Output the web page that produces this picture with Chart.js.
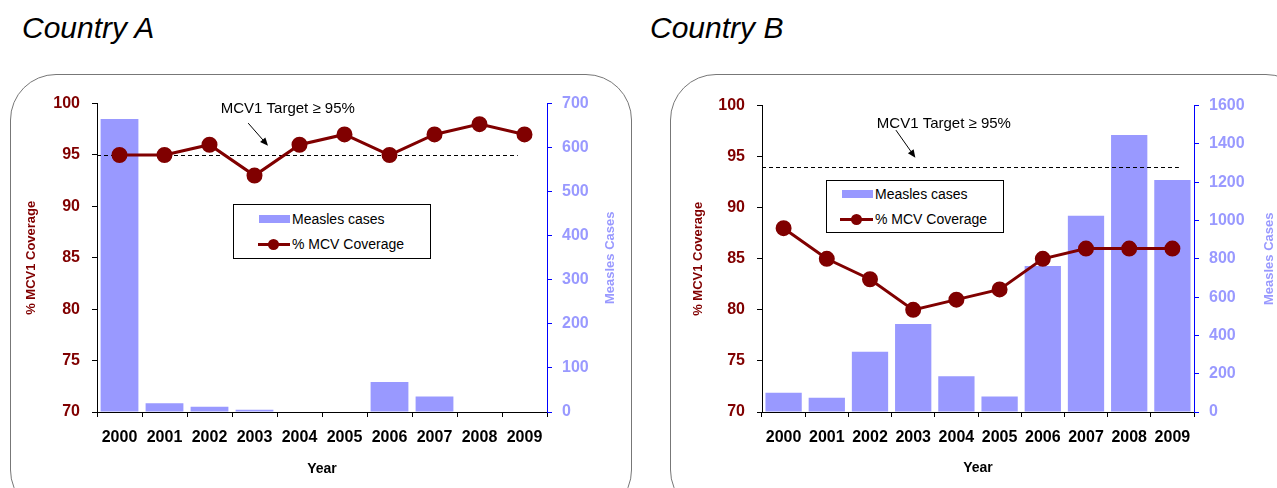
<!DOCTYPE html>
<html>
<head>
<meta charset="utf-8">
<script src="https://cdn.jsdelivr.net/npm/chart.js@4.4.0/dist/chart.umd.min.js"></script>
<style>
  body { margin: 0; background: #fff; width: 1277px; height: 488px; overflow: hidden; position: relative;
         font-family: "Liberation Sans", Arial, sans-serif; }
  .frame { position: absolute; border: 1.5px solid #777; border-radius: 46px; }
  .country { position: absolute; font-style: italic; font-size: 30px; line-height: 1; color: #000; }
  .chartbox { position: absolute; }
  .legend { position: absolute; border: 1px solid #000; background: #fff; font-size: 14px; color: #000; }
  .legend .sw { position: absolute; background: #9999ff; }
  .legend .ln { position: absolute; height: 3px; background: #800000; }
  .legend .dot { position: absolute; width: 11px; height: 11px; border-radius: 50%; background: #800000; }
  .legend .tx { position: absolute; line-height: 16px; white-space: nowrap; }
</style>
</head>
<body>
<div class="frame" style="left:10px;top:74px;width:620px;height:440px;"></div>
<div class="frame" style="left:670px;top:74px;width:640px;height:440px;"></div>
<div class="country" style="left:22px;top:13px;">Country A</div>
<div class="country" style="left:650px;top:13px;">Country B</div>

<div class="chartbox" style="left:10px;top:82px;"><canvas id="chartA" width="620" height="400"></canvas></div>
<div class="chartbox" style="left:660px;top:84px;"><canvas id="chartB" width="617" height="400"></canvas></div>

<div class="legend" style="left:233px;top:204px;width:196px;height:53px;">
  <div class="sw" style="left:25px;top:10px;width:31px;height:8px;"></div>
  <div class="tx" style="left:58px;top:6px;">Measles cases</div>
  <div class="ln" style="left:24px;top:38px;width:32px;"></div>
  <div class="dot" style="left:34px;top:34px;"></div>
  <div class="tx" style="left:58px;top:31px;">% MCV Coverage</div>
</div>
<div class="legend" style="left:826px;top:180px;width:176px;height:51px;">
  <div class="sw" style="left:15px;top:9px;width:31px;height:8px;"></div>
  <div class="tx" style="left:48px;top:5px;">Measles cases</div>
  <div class="ln" style="left:13px;top:37px;width:33px;"></div>
  <div class="dot" style="left:24px;top:33px;"></div>
  <div class="tx" style="left:48px;top:30px;">% MCV Coverage</div>
</div>

<script>
// years on the x axis
const years = ['2000', '2001', '2002', '2003', '2004', '2005', '2006', '2007', '2008', '2009'];

// Country A
const coverageA = [95, 95, 96, 93, 96, 97, 95, 97, 98, 97];
const casesA    = [665, 20, 12, 5, 0, 0, 68, 35, 0, 0];
const targetA   = 95;

// Country B
const coverageB = [88, 85, 83, 80, 81, 82, 85, 86, 86, 86];
const casesB    = [101, 75, 314, 459, 187, 81, 763, 1025, 1446, 1211];
const targetB   = 94;

// axis ranges
const coverageMin = 70, coverageMax = 100, coverageStep = 5;
const casesMaxA = 700, casesStepA = 100;
const casesMaxB = 1600, casesStepB = 200;

const MAROON = '#800000';
const LILAC  = '#9999ff';
const FONT   = '"Liberation Sans", Arial, sans-serif';

// dashed target line (under the coverage line), the note with its arrow,
// and the right axis title that reads bottom to top
const targetPlugin = {
  id: 'targetLine',
  beforeDatasetDraw(chart, args, opts) {
    if (args.index !== 0) return;
    const { ctx, chartArea, scales } = chart;
    const y = Math.round(scales.y.getPixelForValue(opts.value));
    const step = scales.x.getPixelForValue(1) - scales.x.getPixelForValue(0);
    const xEnd = scales.x.getPixelForValue(opts.endIndex) + opts.endShift * step;
    ctx.save();
    ctx.strokeStyle = '#000';
    ctx.lineWidth = 1;
    ctx.setLineDash([4, 3]);
    ctx.beginPath();
    ctx.moveTo(chartArea.left, y + 0.5);
    ctx.lineTo(xEnd, y + 0.5);
    ctx.stroke();
    ctx.restore();
  },
  afterDatasetsDraw(chart, args, opts) {
    const { ctx, scales, chartArea } = chart;
    const x = scales.x, y = scales.y;
    const step = x.getPixelForValue(1) - x.getPixelForValue(0);
    const px = v => x.getPixelForValue(0) + v * step;
    ctx.save();
    ctx.fillStyle = '#000';
    ctx.font = '15px ' + FONT;
    ctx.textAlign = 'center';
    ctx.textBaseline = 'middle';
    ctx.fillText('MCV1 Target \u2265 95%', px(opts.text[0]), y.getPixelForValue(opts.text[1]));
    const x0 = px(opts.arrow[0]), y0 = y.getPixelForValue(opts.arrow[1]);
    const x1 = px(opts.arrow[2]), y1 = y.getPixelForValue(opts.arrow[3]);
    const a = Math.atan2(y1 - y0, x1 - x0);
    ctx.strokeStyle = '#000';
    ctx.lineWidth = 1;
    ctx.beginPath();
    ctx.moveTo(x0, y0);
    ctx.lineTo(x1 - 6 * Math.cos(a), y1 - 6 * Math.sin(a));
    ctx.stroke();
    ctx.beginPath();
    ctx.moveTo(x1, y1);
    ctx.lineTo(x1 - 8 * Math.cos(a) + 3.5 * Math.sin(a), y1 - 8 * Math.sin(a) - 3.5 * Math.cos(a));
    ctx.lineTo(x1 - 8 * Math.cos(a) - 3.5 * Math.sin(a), y1 - 8 * Math.sin(a) + 3.5 * Math.cos(a));
    ctx.closePath();
    ctx.fill();

    // right axis title
    ctx.translate(scales.y1.right - opts.rightTitleInset, (chartArea.top + chartArea.bottom) / 2);
    ctx.rotate(-Math.PI / 2);
    ctx.fillStyle = LILAC;
    ctx.font = 'bold 13px ' + FONT;
    ctx.fillText('Measles Cases', 0, 0);
    ctx.restore();
  }
};

function makeChart(id, coverage, cases, target, casesMax, casesStep, cfg) {
  const ctx = document.getElementById(id).getContext('2d');
  return new Chart(ctx, {
    type: 'bar',
    data: {
      labels: years,
      datasets: [
        {
          type: 'line',
          label: '% MCV Coverage',
          data: coverage,
          yAxisID: 'y',
          borderColor: MAROON,
          backgroundColor: MAROON,
          borderWidth: 3,
          pointRadius: 6.5,
          pointBackgroundColor: MAROON,
          pointBorderColor: MAROON,
          tension: 0,
        },
        {
          type: 'bar',
          label: 'Measles cases',
          data: cases,
          yAxisID: 'y1',
          backgroundColor: LILAC,
          borderWidth: 0,
          barPercentage: 0.84,
          categoryPercentage: 1,
        }
      ]
    },
    options: {
      responsive: false,
      animation: false,
      devicePixelRatio: 1,
      layout: { padding: { top: cfg.top, left: 0, right: 0, bottom: 0 } },
      plugins: {
        legend: { display: false },
        tooltip: { enabled: false },
        targetLine: { value: target, endIndex: 9, endShift: cfg.endShift, text: cfg.text, arrow: cfg.arrow,
                      rightTitleInset: cfg.rightTitleInset },
      },
      scales: {
        x: {
          offset: true,
          grid: { offset: true, drawOnChartArea: false, color: '#000', tickLength: 5 },
          border: { color: '#000' },
          ticks: { color: '#000', padding: 11, font: { family: FONT, size: 16, weight: 'bold' } },
          title: { display: true, text: 'Year', color: '#000', padding: { top: 0, bottom: cfg.yearPad },
                   font: { family: FONT, size: 14, weight: 'bold' } },
          afterFit: s => { s.height = cfg.bottomH; },
        },
        y: {
          position: 'left',
          min: coverageMin, max: coverageMax,
          grid: { drawOnChartArea: false, color: '#000', tickLength: 5 },
          border: { color: '#000' },
          ticks: { stepSize: coverageStep, color: MAROON, padding: 12,
                   font: { family: FONT, size: 16, weight: 'bold' } },
          title: { display: true, text: '% MCV1 Coverage', color: MAROON, padding: { top: cfg.leftTitlePad, bottom: 0 },
                   font: { family: FONT, size: 13, weight: 'bold' } },
          afterFit: s => { s.width = cfg.leftW; },
        },
        y1: {
          position: 'right',
          min: 0, max: casesMax,
          grid: { drawOnChartArea: false, color: '#0000ff', tickLength: 5 },
          border: { color: '#0000ff' },
          ticks: { stepSize: casesStep, color: LILAC, padding: 10,
                   callback: v => String(v),
                   font: { family: FONT, size: 16, weight: 'bold' } },
          title: { display: false },
          afterFit: s => { s.width = cfg.rightW; },
        }
      }
    },
    plugins: [targetPlugin]
  });
}

makeChart('chartA', coverageA, casesA, targetA, casesMaxA, casesStepA, {
  top: 13, leftW: 87, rightW: 83, bottomH: 70, leftTitlePad: 14, rightTitleInset: 20, yearPad: 4,
  endShift: -0.15, text: [3.74, 99.5], arrow: [2.86, 98.1, 3.3, 95.9],
});
makeChart('chartB', coverageB, casesB, targetB, casesMaxB, casesStepB, {
  top: 17, leftW: 102, rightW: 83, bottomH: 72, leftTitlePad: 31, rightTitleInset: 8, yearPad: 7,
  endShift: 0.15, text: [3.71, 98.2], arrow: [2.6, 97.6, 3.05, 94.9],
});
</script>
</body>
</html>
